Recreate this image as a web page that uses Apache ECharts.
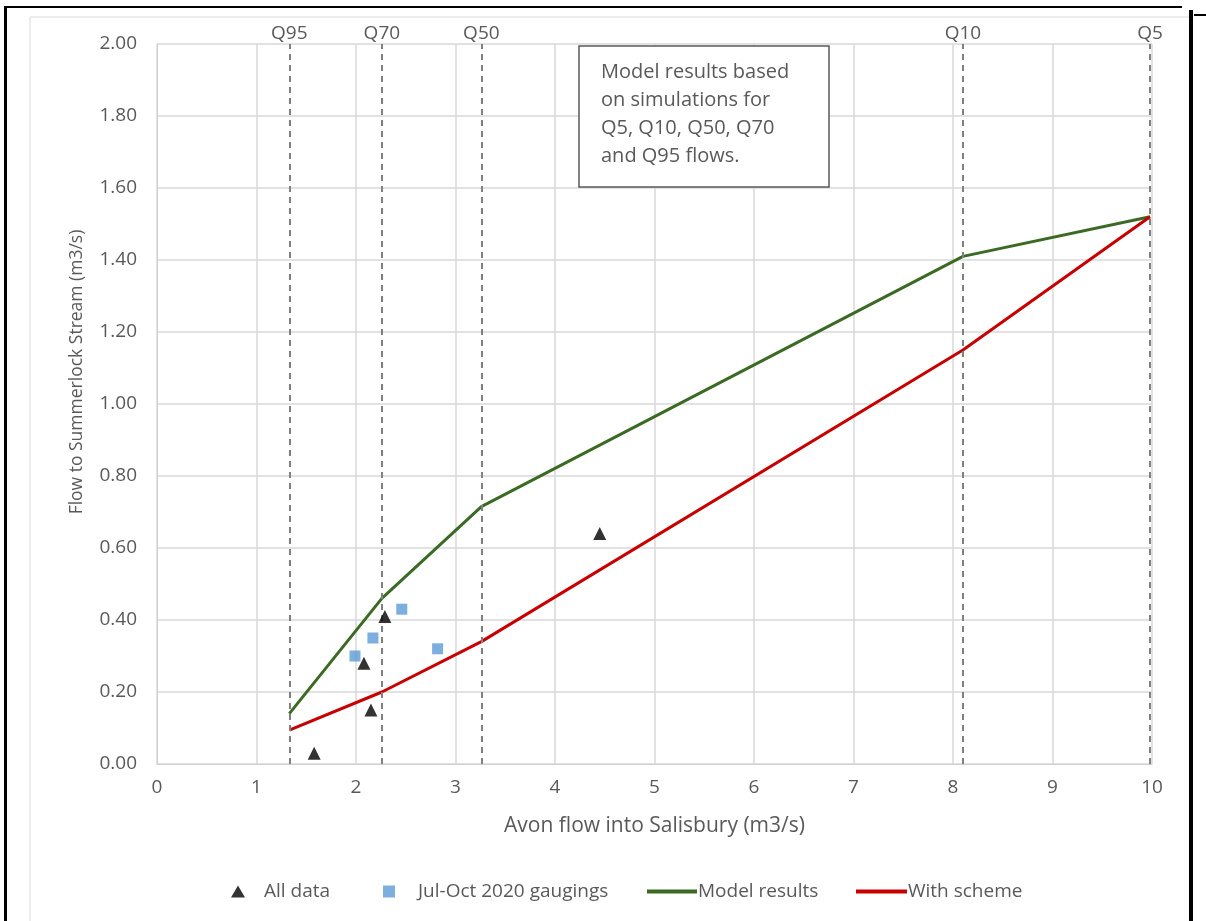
<!DOCTYPE html>
<html><head><meta charset="utf-8">
<script src="https://cdn.jsdelivr.net/npm/echarts@6/dist/echarts.min.js"></script>
<style>html,body{margin:0;padding:0;background:#fff}#c{width:1206px;height:921px}</style>
</head><body><div id="c"></div>
<script>
// Data
const allData = [[1.58,0.03],[2.08,0.28],[2.15,0.15],[2.29,0.41],[4.45,0.64]];
const gaugings = [[1.99,0.30],[2.17,0.35],[2.46,0.43],[2.82,0.32]];
const modelResults = [[1.33,0.14],[2.26,0.46],[3.26,0.715],[8.1,1.41],[9.98,1.52]];
const withScheme = [[1.33,0.094],[2.26,0.20],[3.26,0.34],[8.1,1.15],[9.98,1.52]];
const qNames = ['Q95','Q70','Q50','Q10','Q5'];
const qFlows = [1.33,2.26,3.26,8.1,9.98];
const noteLines = ['Model results based','on simulations for','Q5, Q10, Q50, Q70','and Q95 flows.'];
const yTitle = 'Flow to Summerlock Stream (m3/s)';

const font = '"Open Sans", sans-serif';
const txt = '#595959';
const chart = echarts.init(document.getElementById('c'), null, {renderer:'canvas'});
const legendBase = {top: 877, itemHeight: 12, textStyle:{color:txt, fontSize:19, fontFamily:font}, itemGap: 0};
chart.setOption({
  animation:false,
  backgroundColor:'#fff',
  grid:{left:157, right:54, top:44, bottom:157},
  xAxis:{type:'value', min:0, max:10, interval:1,
    name:'Avon flow into Salisbury (m3/s)', nameLocation:'middle', nameGap:52,
    nameTextStyle:{color:txt, fontSize:21, fontFamily:font},
    axisLine:{show:true, lineStyle:{color:'#d0d0d0'}}, axisTick:{show:false},
    axisLabel:{color:txt, fontSize:19, fontFamily:font, margin:14},
    splitLine:{show:true, lineStyle:{color:'#d9d9d9', width:1.5}}},
  yAxis:{type:'value', min:0, max:2, interval:0.2,
    axisLine:{show:true, lineStyle:{color:'#d0d0d0'}}, axisTick:{show:false},
    axisLabel:{color:txt, fontSize:19, fontFamily:font, margin:20, formatter:v=>v.toFixed(2)},
    splitLine:{show:true, lineStyle:{color:'#d9d9d9', width:1.5}}},
  legend:[
    Object.assign({}, legendBase, {left:226, itemWidth:14, data:[{name:'All data', icon:'triangle'}], textStyle:Object.assign({}, legendBase.textStyle, {padding:[0,0,0,14]})}),
    Object.assign({}, legendBase, {left:378, itemWidth:12, data:[{name:'Jul-Oct 2020 gaugings', icon:'rect'}], textStyle:Object.assign({}, legendBase.textStyle, {padding:[0,0,0,18]})}),
    Object.assign({}, legendBase, {left:642, itemWidth:50, itemHeight:4, data:[{name:'Model results', icon:'rect'}], textStyle:Object.assign({}, legendBase.textStyle, {padding:[0,0,0,-4]})}),
    Object.assign({}, legendBase, {left:851, itemWidth:51, itemHeight:4, data:[{name:'With scheme', icon:'rect'}], textStyle:Object.assign({}, legendBase.textStyle, {padding:[0,0,0,-4]})})
  ],
  graphic:[
    {type:'rect', shape:{x:579, y:46, width:250, height:141}, style:{fill:'#fff', stroke:'#595959', lineWidth:1.5}, z:100},
    {type:'text', left:601, top:58, style:{text:noteLines.join('\n'), fill:txt, font:'20px '+font, lineHeight:28}, z:101},
    {type:'text', x:77, y:372, rotation:Math.PI/2, style:{text:yTitle, fill:txt, font:'17.5px '+font, align:'center', verticalAlign:'middle'}, z:101},
    {type:'rect', shape:{x:4, y:6, width:1178, height:2}, style:{fill:'#000'}, z:100},
    {type:'rect', shape:{x:4, y:6, width:3, height:915}, style:{fill:'#000'}, z:100},
    {type:'rect', shape:{x:1189, y:10, width:4, height:911}, style:{fill:'#000'}, z:100},
    {type:'rect', shape:{x:1194, y:14, width:12, height:2}, style:{fill:'#000'}, z:100},
    {type:'rect', shape:{x:30, y:17, width:1160, height:910}, style:{fill:'none', stroke:'#d9d9d9', lineWidth:1}, z:99}
  ],
  series:[
    {name:'Model results', type:'line', data:modelResults, symbol:'none', lineStyle:{color:'#3b6a24', width:3}, itemStyle:{color:'#3b6a24'}, z:3,
      markLine:{silent:true, symbol:['none','none'],
        lineStyle:{color:'#808080', type:[6,5], width:2},
        label:{show:true, position:'end', formatter:p=>p.name, color:txt, fontSize:19, fontFamily:font, distance:1},
        data: qNames.map((n,i)=>({name:n, xAxis:qFlows[i]}))}},
    {name:'With scheme', type:'line', data:withScheme, symbol:'none', lineStyle:{color:'#c80000', width:3}, itemStyle:{color:'#c80000'}, z:3},
    {name:'All data', type:'scatter', data:allData, symbol:'triangle', symbolSize:13, itemStyle:{color:'#000'}, z:5},
    {name:'Jul-Oct 2020 gaugings', type:'scatter', data:gaugings, symbol:'rect', symbolSize:11, itemStyle:{color:'#5b9bd5'}, z:4}
  ]
});
</script></body></html>
